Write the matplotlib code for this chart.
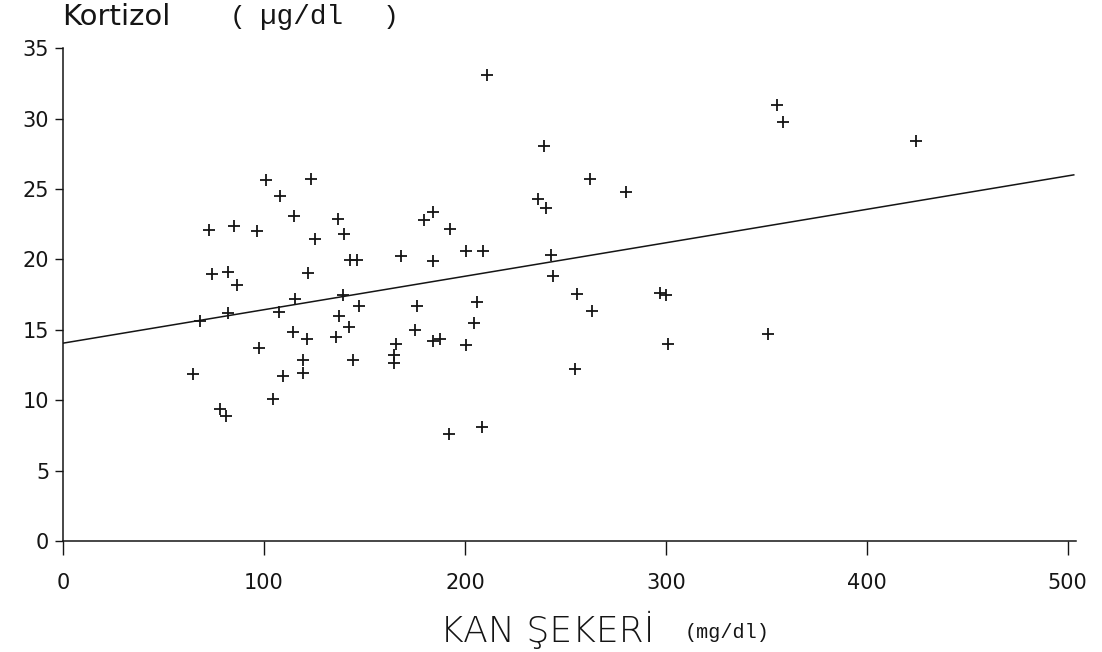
import numpy as np
import matplotlib
matplotlib.use('Agg')
import matplotlib.pyplot as plt

# Kan şekeri (mg/dl) ve kortizol (µg/dl) değerleri
kan_sekeri = [100.8, 123.2, 108.0, 114.9, 136.8, 72.8, 84.9, 96.5, 125.2, 139.8,
              142.8, 146.3, 74.1, 82.2, 86.7, 121.9, 115.3, 139.3, 147.4, 68.3,
              81.9, 107.5, 137.2, 142.1, 114.3, 121.2, 135.8, 97.7, 119.3, 144.4,
              64.5, 109.6, 119.3, 104.6, 78.1, 81.1,
              210.9, 239.3, 262.2, 280.1, 236.5, 240.6, 184.2, 179.8, 192.5, 168.2,
              184.2, 200.5, 209.1, 242.8, 243.6, 255.9, 176.0, 206.1, 204.5, 175.3,
              165.5, 164.8, 164.8, 184.2, 187.6, 200.5, 263.2, 254.9, 192.2, 208.3,
              355.1, 358.1, 424.7, 297.0, 300.3, 301.2, 350.9]
kortizol = [25.62, 25.69, 24.49, 23.07, 22.87, 22.05, 22.36, 22.02, 21.43, 21.79,
            19.92, 19.92, 18.97, 19.09, 18.19, 19.02, 17.18, 17.44, 16.68, 15.61,
            16.16, 16.25, 15.99, 15.21, 14.85, 14.34, 14.46, 13.72, 12.85, 12.82,
            11.83, 11.73, 11.94, 10.06, 9.35, 8.89,
            33.07, 28.03, 25.69, 24.75, 24.27, 23.66, 23.35, 22.83, 22.17, 20.23,
            19.87, 20.58, 20.58, 20.30, 18.81, 17.51, 16.68, 16.98, 15.47, 15.00,
            13.96, 12.63, 13.18, 14.22, 14.32, 13.91, 16.35, 12.23, 7.57, 8.11,
            30.94, 29.76, 28.39, 17.58, 17.46, 13.98, 14.69]

# regresyon doğrusu uç noktaları
dogru_x = [0, 503]
dogru_y = [14.05, 26.0]

x_ticks = [0, 100, 200, 300, 400, 500]
y_ticks = [0, 5, 10, 15, 20, 25, 30, 35]

ink = '#151515'

fig = plt.figure(figsize=(11.02, 6.52), dpi=100)
ax = fig.add_axes([0.0572, 0.1702, 0.919, 0.756])

ax.plot(dogru_x, dogru_y, color=ink, lw=1.1, zorder=2)
ax.plot(kan_sekeri, kortizol, linestyle='none', marker='+', markersize=9,
        markeredgewidth=1.3, color=ink, zorder=3)

ax.set_xlim(0, 504)
ax.set_ylim(0, 35)
ax.spines['top'].set_visible(False)
ax.spines['right'].set_visible(False)
for s in ['left', 'bottom']:
    ax.spines[s].set_color(ink)
    ax.spines[s].set_linewidth(1.1)

ax.set_xticks(x_ticks)
ax.set_xticklabels([str(v) for v in x_ticks])
ax.set_yticks(y_ticks)
ax.set_yticklabels([str(v) for v in y_ticks])
ax.tick_params(axis='x', direction='out', length=10, width=1, pad=13,
               labelsize=15, colors=ink)
ax.tick_params(axis='y', direction='out', length=6, width=1, pad=4,
               labelsize=15, colors=ink)
for t in ax.get_xticklines() + ax.get_yticklines():
    t.set_clip_on(False)

# başlık ve eksen yazıları
fig.text(62 / 1102, 1 - 17 / 652, 'Kortizol', fontsize=21, color=ink,
         ha='left', va='center')
fig.text(230 / 1102, 1 - 17 / 652, '(', family='Liberation Mono', fontsize=19,
         color=ink, ha='left', va='center')
fig.text(260 / 1102, 1 - 17 / 652, 'µg/dl', family='Liberation Mono', fontsize=20,
         color=ink, ha='left', va='center')
fig.text(383 / 1102, 1 - 17 / 652, ')', family='Liberation Mono', fontsize=19,
         color=ink, ha='left', va='center')

fig.text(440 / 1102, 1 - 630 / 652, 'KAN ŞEKERİ', fontsize=26, fontweight='light',
         color=ink, ha='left', va='center')
fig.text(685 / 1102, 1 - 632 / 652, '(mg/dl)', family='Liberation Mono', fontsize=14.5,
         color=ink, ha='left', va='center')

fig.savefig('out.png', dpi=100)
